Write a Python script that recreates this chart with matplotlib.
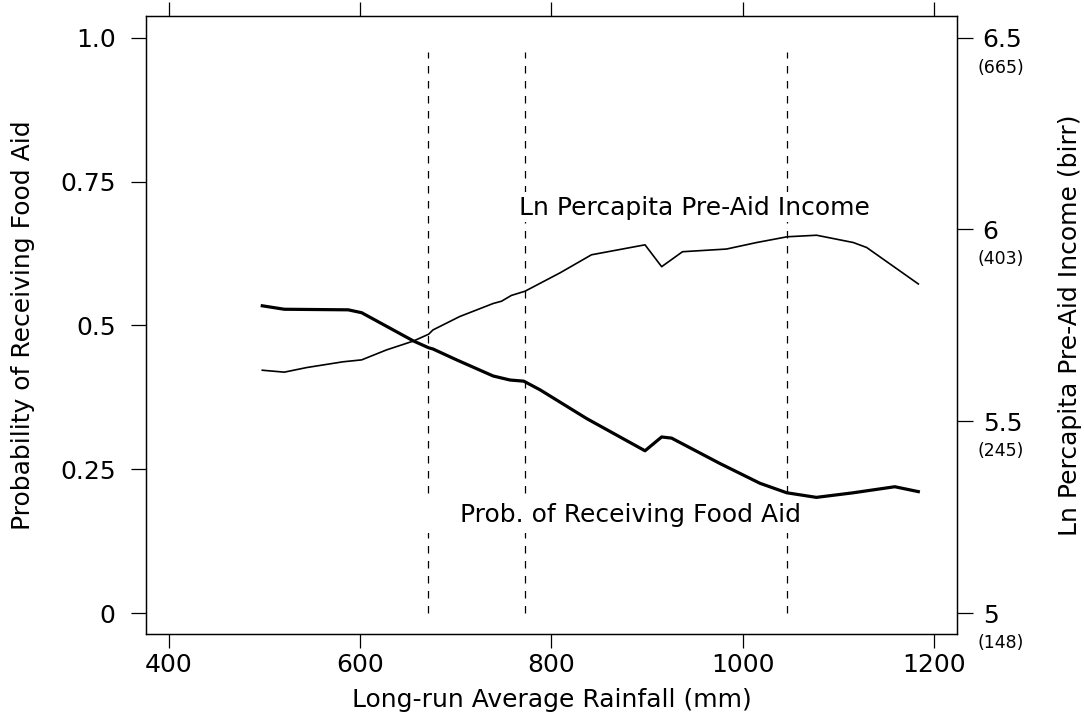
"""Probability of receiving food aid and ln pre-aid income against long-run rainfall."""
import matplotlib
matplotlib.use("Agg")
import matplotlib.pyplot as plt
from matplotlib.patches import Rectangle
from matplotlib.transforms import blended_transform_factory

# thick line: probability of receiving food aid (left axis)
PROB_X = [497.6, 520.6, 587.5, 601.5, 655.5, 671.6, 676.0, 700.8, 739.0, 756.6,
          771.0, 788.0, 836.8, 897.8, 915.2, 925.6, 976.0, 1018.0, 1046.0, 1077.0,
          1115.6, 1159.0, 1183.6]
PROB_Y = [0.534, 0.528, 0.527, 0.522, 0.473, 0.461, 0.459, 0.440, 0.412, 0.405,
          0.403, 0.388, 0.338, 0.282, 0.306, 0.304, 0.260, 0.2255, 0.209, 0.201,
          0.209, 0.2195, 0.211]

# thin line: ln per-capita pre-aid income (right axis)
INC_X = [497.6, 520.6, 544.0, 582.0, 601.5, 627.5, 655.5, 671.6, 676.0, 704.0,
         739.0, 747.8, 758.0, 772.3, 809.0, 841.8, 897.8, 915.2, 937.0, 983.0,
         1014.6, 1046.6, 1077.2, 1115.6, 1129.6, 1183.6]
INC_Y = [5.633, 5.628, 5.640, 5.655, 5.660, 5.686, 5.709, 5.727, 5.738, 5.773,
         5.807, 5.813, 5.828, 5.839, 5.887, 5.934, 5.960, 5.903, 5.942, 5.949,
         5.966, 5.981, 5.985, 5.966, 5.953, 5.858]

DASH_X = [671, 772, 1046]

X_TICKS = [400, 600, 800, 1000, 1200]
LEFT_TICKS = [0, 0.25, 0.5, 0.75, 1.0]
LEFT_LABELS = ["0", "0.25", "0.5", "0.75", "1.0"]
RIGHT_TICKS = [5, 5.5, 6, 6.5]
RIGHT_LABELS = ["5", "5.5", "6", "6.5"]
RIGHT_BIRR = ["(148)", "(245)", "(403)", "(665)"]

FS = 18
plt.rcParams["font.family"] = ["DejaVu Sans"]

fig = plt.figure(figsize=(10.84, 7.25), dpi=100)
ax = fig.add_axes([0.1347, 0.1255, 0.7481, 0.8524])
ax2 = ax.twinx()

ax.set_xlim(376, 1224)
ax.set_ylim(-0.0365, 1.0377)
ax2.set_ylim(5 - 0.0365 * 1.5, 5 + 1.0377 * 1.5)

ax.vlines(DASH_X, 0, 0.975, colors="black", linewidth=0.9,
          linestyles=(0, (6, 6)), zorder=1)
ax.plot(PROB_X, PROB_Y, color="black", linewidth=2.3, zorder=3)
ax2.plot(INC_X, INC_Y, color="black", linewidth=1.2, zorder=3)


def curve_label(text, xc, y_base, half_w, y0, y1):
    # white knock-out behind the label, as wide as the stretched original text
    ax.add_patch(Rectangle((xc - half_w, y0), 2 * half_w, y1 - y0,
                           facecolor="white", edgecolor="none", zorder=2))
    ax.text(xc, y_base, text, ha="center", va="baseline", fontsize=FS,
            zorder=4)


curve_label("Ln Percapita Pre-Aid Income", 949.5, 0.692, 214, 0.680, 0.732)
curve_label("Prob. of Receiving Food Aid", 883, 0.158, 213, 0.139, 0.205)

ax.set_xticks(X_TICKS)
ax.set_xticklabels([str(v) for v in X_TICKS])
ax.set_yticks(LEFT_TICKS)
ax.set_yticklabels(LEFT_LABELS)
ax.tick_params(axis="x", which="major", direction="out", length=10, width=0.9,
               pad=4, labelsize=FS, top=True, labeltop=False)
ax.tick_params(axis="y", which="major", direction="out", length=10.8, width=0.9,
               pad=11, labelsize=FS)

ax2.set_yticks(RIGHT_TICKS)
ax2.set_yticklabels(RIGHT_LABELS)
ax2.tick_params(axis="y", direction="out", length=11.5, width=0.9, pad=7,
                labelsize=FS)
trans = blended_transform_factory(ax2.transAxes, ax2.transData)
for v, s in zip(RIGHT_TICKS, RIGHT_BIRR):
    ax2.annotate(s, xy=(1, v), xycoords=trans, xytext=(15, -21.5),
                 textcoords="offset points", ha="left", va="center",
                 fontsize=12.5, annotation_clip=False)

ax.set_xlabel("Long-run Average Rainfall (mm)", fontsize=FS)
ax.xaxis.set_label_coords(0.5, -0.087)
ax.set_ylabel("Probability of Receiving Food Aid", fontsize=FS)
ax.yaxis.set_label_coords(-0.137, 0.5)
ax2.set_ylabel("Ln Percapita Pre-Aid Income (birr)", fontsize=FS)
ax2.yaxis.set_label_coords(1.125, 0.5)

for a in (ax, ax2):
    for sp in a.spines.values():
        sp.set_linewidth(0.9)

fig.savefig("out.png", dpi=100, facecolor="white")
